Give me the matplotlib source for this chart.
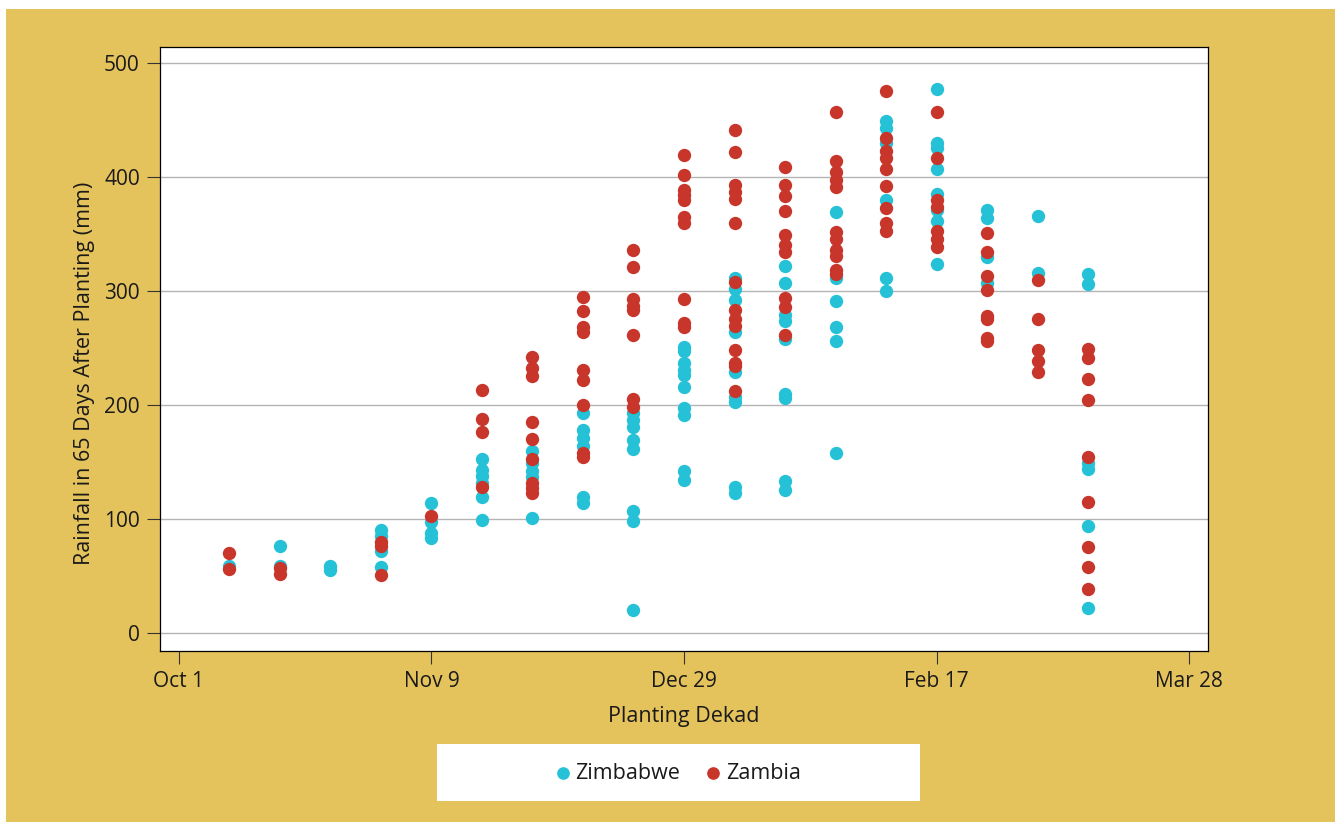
"""
Rainfall received in the 65 days after planting, by planting dekad,
for Zimbabwe and Zambia stations.
"""

import matplotlib.pyplot as plt
from matplotlib.patches import Rectangle

plt.rcParams["font.family"] = ["Open Sans", "DejaVu Sans"]

# Dekads counted from Oct 1 (dekad 0); ticks every 5 dekads
tick_dekads = [0, 5, 10, 15, 20]
tick_labels = ["Oct 1", "Nov 9", "Dec 29", "Feb 17", "Mar 28"]

# Rainfall (mm) per planting dekad 1..18
zimbabwe_rain = [
    [59],
    [76, 59],
    [59, 55],
    [90, 85, 72, 58],
    [114, 97, 88, 83],
    [153, 143, 138, 132, 119, 99],
    [160, 149, 142, 137, 101],
    [193, 178, 171, 164, 119, 114],
    [193, 187, 181, 169, 161, 107, 98, 20],
    [251, 247, 237, 231, 226, 216, 197, 191, 142, 134],
    [311, 302, 292, 264, 229, 207, 203, 128, 123],
    [322, 307, 279, 274, 258, 210, 206, 133, 125],
    [369, 311, 291, 268, 256, 158],
    [449, 443, 430, 380, 311, 300],
    [477, 430, 425, 407, 385, 371, 361, 324],
    [371, 364, 330, 307],
    [366, 316],
    [315, 306, 149, 144, 94, 22],
]

zambia_rain = [
    [70, 56],
    [57, 52],
    [],
    [80, 76, 51],
    [103],
    [213, 188, 176, 128],
    [242, 232, 225, 185, 170, 153, 132, 127, 123],
    [295, 282, 268, 264, 231, 222, 200, 158, 154],
    [336, 321, 293, 287, 283, 261, 205, 198],
    [419, 402, 389, 384, 380, 365, 360, 293, 272, 268],
    [441, 422, 393, 387, 381, 360, 308, 283, 275, 269, 248, 237, 234, 212],
    [409, 393, 383, 370, 349, 340, 334, 294, 286, 261],
    [457, 414, 404, 397, 391, 352, 346, 336, 331, 318, 315],
    [475, 434, 423, 417, 407, 392, 373, 360, 353],
    [457, 417, 380, 374, 353, 346, 339],
    [351, 334, 313, 301, 278, 275, 259, 256],
    [310, 275, 248, 239, 229],
    [249, 241, 223, 204, 154, 115, 75, 58, 39],
]

GOLD = "#E5C35C"
CYAN = "#25C1D6"
RED = "#C8352A"
TEXT = "#1a1a1a"


def flatten(per_dekad):
    xs, ys = [], []
    for i, vals in enumerate(per_dekad, start=1):
        xs.extend([i] * len(vals))
        ys.extend(vals)
    return xs, ys


fig = plt.figure(figsize=(13.37, 8.22), dpi=100)
W, H = 1337, 822

# gold panel and the white legend box, both behind the axes
fig.patches.append(Rectangle((6 / W, 0), 1329 / W, 813 / H,
                             transform=fig.transFigure, facecolor=GOLD,
                             edgecolor="none", zorder=-10))
fig.patches.append(Rectangle((437 / W, 1 - 801 / H), 483 / W, 57 / H,
                             transform=fig.transFigure, facecolor="white",
                             edgecolor="none", zorder=-5))

ax = fig.add_axes([160 / W, 1 - 651 / H, 1048 / W, 604 / H])
ax.set_facecolor("white")

zx, zy = flatten(zimbabwe_rain)
ax.scatter(zx, zy, s=92, color=CYAN, linewidths=0, label="Zimbabwe", zorder=3)
rx, ry = flatten(zambia_rain)
ax.scatter(rx, ry, s=92, color=RED, linewidths=0, label="Zambia", zorder=4)

ax.set_xlim(-0.376, 20.376)
ax.set_ylim(-15.8, 514)
ax.set_xticks(tick_dekads)
ax.set_xticklabels(tick_labels)
ax.set_yticks([0, 100, 200, 300, 400, 500])
ax.grid(axis="y", color="#b4b4b4", linewidth=1.0)
ax.set_axisbelow(True)

for sp in ax.spines.values():
    sp.set_color("black")
    sp.set_linewidth(0.9)

ax.tick_params(direction="out", length=9.5, width=0.8, color="#333333",
               labelsize=15, labelcolor=TEXT, pad=5)
ax.set_xlabel("Planting Dekad", fontsize=15.5, color=TEXT, labelpad=10)
ax.set_ylabel("Rainfall in 65 Days After Planting (mm)", fontsize=15.5,
              color=TEXT)
ax.yaxis.set_label_coords(-0.062, 0.46)

leg = fig.legend(loc="center", bbox_to_anchor=(678 / W, 1 - 773 / H),
                 ncol=2, frameon=False, fontsize=15.5, handlelength=0.7,
                 handletextpad=0.22, columnspacing=1.2, markerscale=0.95)
for t in leg.get_texts():
    t.set_color(TEXT)

fig.savefig("out.png", dpi=100, facecolor="white")
